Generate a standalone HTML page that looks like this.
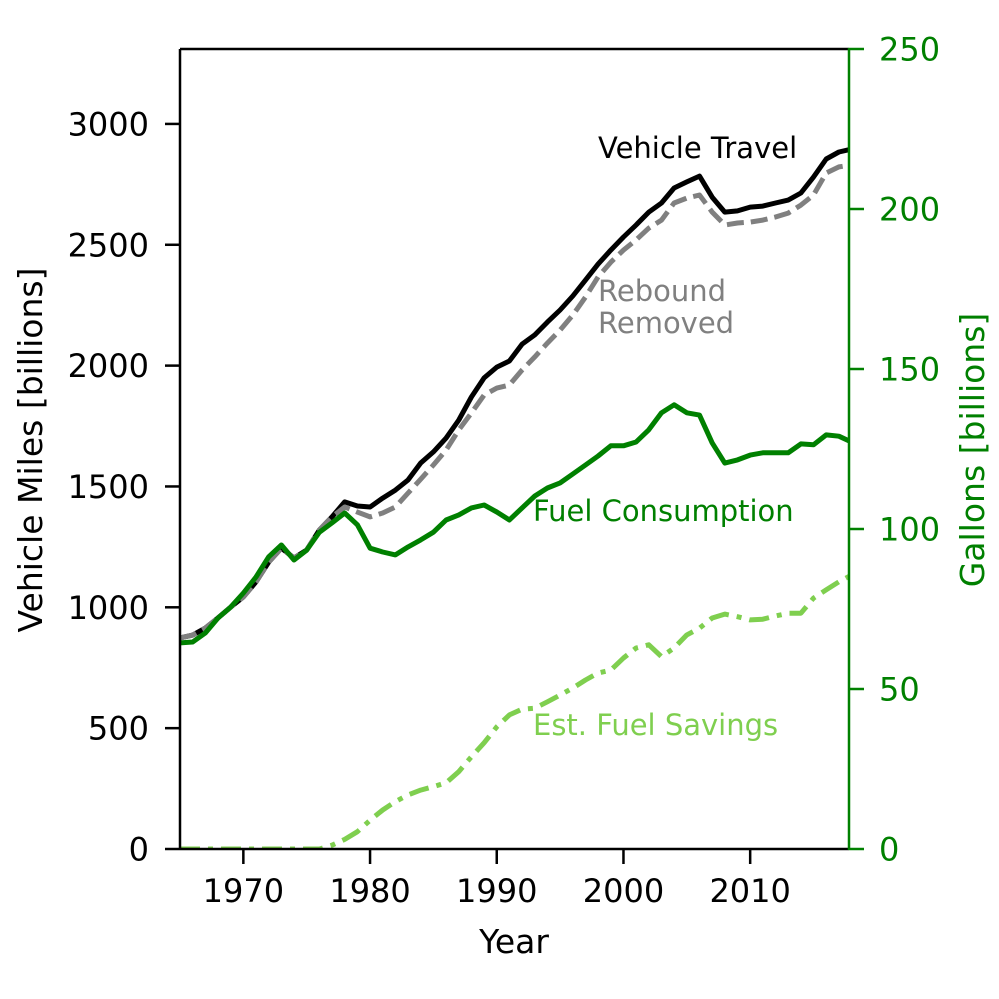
<!DOCTYPE html>
<html><head><meta charset="utf-8"><style>
html,body{margin:0;padding:0;background:#fff}
svg{display:block;font-family:"DejaVu Sans","Liberation Sans",sans-serif}
</style></head><body>
<svg id="chart" width="999" height="999" viewBox="0 0 999 999" xmlns="http://www.w3.org/2000/svg">
<defs><clipPath id="clip"><rect x="180" y="49" width="669" height="800"/></clipPath></defs>
<g id="marks" clip-path="url(#clip)"></g>
<g id="axes"></g>
</svg>
<script>
const years = [];
for (let y = 1965; y <= 2018; y++) years.push(y);
const vehicleTravel = [873,885,914,956,1001,1043,1105,1187,1245,1204,1237,1320,1374,1436,1419,1415,1452,1485,1527,1597,1643,1700,1775,1870,1949,1994,2019,2089,2127,2180,2230,2288,2354,2420,2478,2532,2582,2635,2673,2735,2760,2784,2697,2635,2640,2656,2660,2673,2685,2714,2780,2855,2884,2896];
const reboundRemoved = [873,885,914,956,1001,1043,1105,1187,1245,1204,1237,1320,1374,1415,1394,1374,1390,1415,1473,1530,1589,1651,1734,1804,1878,1907,1920,1982,2036,2093,2147,2209,2284,2367,2428,2478,2520,2569,2602,2673,2693,2706,2635,2582,2590,2594,2602,2615,2631,2664,2706,2797,2822,2830];
const fuelConsumption = [64.4,64.7,67.5,72.2,75.6,80,85,91.3,95,90.3,93.4,99,101.9,105,101.3,94,92.8,91.9,94.4,96.6,99,102.8,104.4,106.6,107.5,105.3,102.8,106.6,110.3,112.8,114.4,117.2,120,122.8,126,126,127.2,131,136.3,138.8,136.3,135.6,126.9,120.6,121.6,123.1,123.8,123.8,123.8,126.6,126.3,129.4,129,127.2];
const fuelSavings = [0,0,0,0,0,0,0,0,0,0,0,0,1.2,3,5.4,9,12.2,14.8,16.9,18.4,19.5,20.7,24.2,28.8,33.2,38.2,41.9,43.7,44,46,48.1,50.3,52.8,55,55.9,59.7,62.8,63.8,60.1,62.8,66.9,69,72.2,73.4,72.6,71.6,71.8,72.8,73.7,73.7,78.4,81,83.5,85.6];
const xTicks = [1970,1980,1990,2000,2010];
const yLeftTicks = [0,500,1000,1500,2000,2500,3000];
const yRightTicks = [0,50,100,150,200,250];

const X0=180,X1=849,Y0=849,Y1=49;
const xs = v => X0 + (v-1965)/(2017.8-1965)*(X1-X0);
const yl = v => Y0 - v/3310*(Y0-Y1);
const yr = v => Y0 - v/250*(Y0-Y1);
const NS="http://www.w3.org/2000/svg";
const marks=document.getElementById('marks'), axes=document.getElementById('axes');
function mk(tag, attrs, parent){const e=document.createElementNS(NS,tag);for(const k in attrs)e.setAttribute(k,attrs[k]);parent.appendChild(e);return e;}
function line(vals, yf, stroke, dash, name){
  const d = vals.map((v,i)=>(i?'L':'M')+xs(years[i]).toFixed(1)+' '+yf(v).toFixed(1)).join(' ');
  const p = mk('path',{d:d,fill:'none',stroke:stroke,'stroke-width':5,'stroke-linejoin':'round','stroke-dasharray':dash||'none'},marks);
  
  
}
line(vehicleTravel, yl, '#000', null, 'vehicle-travel-line');
line(reboundRemoved, yl, '#808080', '17 7', 'rebound-removed-line');
line(fuelConsumption, yr, '#008000', null, 'fuel-consumption-line');
line(fuelSavings, yr, '#7fcf4f', '20 8 5 8', 'fuel-savings-line');

let s;
s=mk('line',{x1:X0,y1:Y1,x2:X0,y2:Y0+1,stroke:'#000','stroke-width':2.5},axes);


s=mk('line',{x1:X0,y1:Y0,x2:X1,y2:Y0,stroke:'#000','stroke-width':2.5},axes);


s=mk('line',{x1:X0,y1:Y1,x2:X1,y2:Y1,stroke:'#000','stroke-width':2.5},axes);


s=mk('line',{x1:X1,y1:Y1-1,x2:X1,y2:Y0+1,stroke:'#008000','stroke-width':2.5},axes);



xTicks.forEach(t=>{
  const x=xs(t);
  mk('line',{x1:x,y1:Y0,x2:x,y2:Y0+15,stroke:'#000','stroke-width':2.5},axes);
  const tx=mk('text',{x:x,y:902,'text-anchor':'middle','font-size':32,fill:'#000'},axes);
  tx.textContent=t;
  
  
});
yLeftTicks.forEach(t=>{
  const y=yl(t);
  mk('line',{x1:X0-15,y1:y,x2:X0,y2:y,stroke:'#000','stroke-width':2.5},axes);
  const tx=mk('text',{x:149,y:y+11.5,'text-anchor':'end','font-size':32,fill:'#000'},axes);
  tx.textContent=t;
  
  
});
yRightTicks.forEach(t=>{
  const y=yr(t);
  mk('line',{x1:X1,y1:y,x2:X1+15,y2:y,stroke:'#008000','stroke-width':2.5},axes);
  const tx=mk('text',{x:879,y:y+11.5,'text-anchor':'start','font-size':32,fill:'#008000'},axes);
  tx.textContent=t;
  
  
});
</script>
<svg style="position:absolute;left:0;top:0" width="999" height="999" xmlns="http://www.w3.org/2000/svg" font-family="DejaVu Sans, Liberation Sans, sans-serif">
<text x="514" y="953" text-anchor="middle" font-size="33">Year</text>
<text transform="translate(42,450) rotate(-90)" text-anchor="middle" font-size="33">Vehicle Miles [billions]</text>
<text transform="translate(984,450) rotate(-90)" text-anchor="middle" font-size="33" fill="#008000">Gallons [billions]</text>
<text x="598" y="158" font-size="29">Vehicle Travel</text>
<text x="598" y="301" font-size="29" fill="#808080">Rebound</text>
<text x="598" y="333" font-size="29" fill="#808080">Removed</text>
<text x="533" y="521" font-size="29" fill="#008000">Fuel Consumption</text>
<text x="533" y="735" font-size="29" fill="#7fcf4f">Est. Fuel Savings</text>
</svg>
</body></html>
